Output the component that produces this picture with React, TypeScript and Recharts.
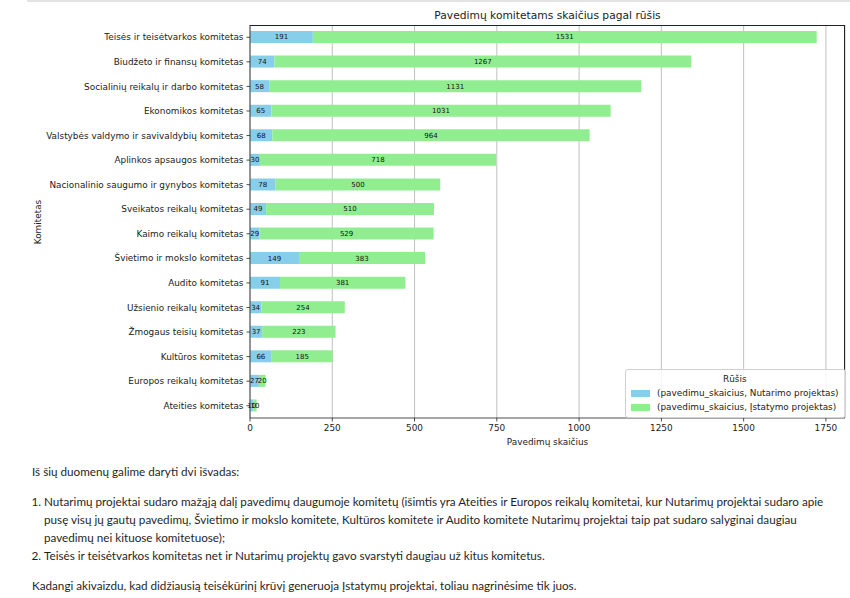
import React from 'react';
import {
  BarChart,
  Bar,
  XAxis,
  YAxis,
  CartesianGrid,
  LabelList,
} from 'recharts';

// ── Duomenys ──────────────────────────────────────────

const committees = [
  'Teisės ir teisėtvarkos komitetas',
  'Biudžeto ir finansų komitetas',
  'Socialinių reikalų ir darbo komitetas',
  'Ekonomikos komitetas',
  'Valstybės valdymo ir savivaldybių komitetas',
  'Aplinkos apsaugos komitetas',
  'Nacionalinio saugumo ir gynybos komitetas',
  'Sveikatos reikalų komitetas',
  'Kaimo reikalų komitetas',
  'Švietimo ir mokslo komitetas',
  'Audito komitetas',
  'Užsienio reikalų komitetas',
  'Žmogaus teisių komitetas',
  'Kultūros komitetas',
  'Europos reikalų komitetas',
  'Ateities komitetas',
];

const nutarimo = [191, 74, 58, 65, 68, 30, 78, 49, 29, 149, 91, 34, 37, 66, 27, 10];
const istatymo = [1531, 1267, 1131, 1031, 964, 718, 500, 510, 529, 383, 381, 254, 223, 185, 20, 10];

const xTicks = [0, 250, 500, 750, 1000, 1250, 1500, 1750];
const xMax = 1808;

const seriesNames = [
  '(pavedimu_skaicius, Nutarimo projektas)',
  '(pavedimu_skaicius, Įstatymo projektas)',
];

const data = committees.map((name, i) => ({
  name,
  nutarimo: nutarimo[i],
  istatymo: istatymo[i],
}));

const MPL_FONT = '"DejaVu Sans", sans-serif';
const FS = 8.9;
const BLUE = '#87CEEB';
const GREEN = '#90EE90';

// plot box (matplotlib axes)
const PLOT = { left: 250, top: 25, right: 845, bottom: 418 };

// ── Y ašies žymos be laužymo ─────────────────────────

// eslint-disable-next-line @typescript-eslint/no-explicit-any
const YTick = (props: any) => {
  const { x, y, payload } = props;
  return (
    <text x={x} y={y} dy="0.35em" textAnchor="end" fill="#222" fontSize={FS} fontFamily={MPL_FONT}>
      {payload.value}
    </text>
  );
};

// ── Legenda ──────────────────────────────────────────

const LegendBox = () => (
  <div style={{
    position: 'absolute', left: 625, top: 369,
    border: '1px solid #d0d0d0',
    borderRadius: 3,
    background: 'rgba(255,255,255,0.85)',
    padding: '2px 6px 3px 5px',
    fontFamily: MPL_FONT,
    fontSize: FS,
    color: '#222',
    lineHeight: '14px',
    whiteSpace: 'nowrap',
  }}>
    <div style={{ textAlign: 'center' }}>Rūšis</div>
    {[BLUE, GREEN].map((c, i) => (
      <div key={i} style={{ display: 'flex', alignItems: 'center', gap: 7 }}>
        <span style={{ width: 19, height: 7, background: c, display: 'inline-block' }} />
        {seriesNames[i]}
      </div>
    ))}
  </div>
);

// ── Pagrindinis komponentas ──────────────────────────

export default function App() {
  return (
    <div style={{ position: 'absolute', left: 0, top: 0, width: 850, height: 598, background: '#fff' }}>
      <div style={{ position: 'absolute', left: 27, top: 0, right: 0, height: 2, background: '#e3e3e3' }} />

      <div style={{
        position: 'absolute', left: PLOT.left, width: PLOT.right - PLOT.left, top: 9, textAlign: 'center',
        fontFamily: MPL_FONT, fontSize: 10.7, color: '#222',
      }}>
        Pavedimų komitetams skaičius pagal rūšis
      </div>

      <div style={{ position: 'absolute', left: 0, top: 0, width: 850, height: 450 }}>
        <BarChart
          width={850}
          height={450}
          data={data}
          layout="vertical"
          barSize={12}
          margin={{ top: PLOT.top, right: 850 - PLOT.right, left: 0, bottom: 2 }}
        >
          <CartesianGrid horizontal={false} stroke="#b0b0b0" strokeWidth={0.8} />

          <XAxis
            type="number"
            domain={[0, xMax]}
            ticks={xTicks}
            height={30}
            tickSize={3.5}
            tickMargin={3}
            tick={{ fill: '#222', fontSize: FS, fontFamily: MPL_FONT }}
            axisLine={{ stroke: '#222', strokeWidth: 0.8 }}
            tickLine={{ stroke: '#222', strokeWidth: 0.8 }}
            label={{ value: 'Pavedimų skaičius', position: 'insideBottom', offset: 3, fill: '#222', fontSize: FS, fontFamily: MPL_FONT }}
          />

          <YAxis
            type="category"
            dataKey="name"
            width={PLOT.left}
            interval={0}
            tickSize={3.5}
            tickMargin={3}
            tick={YTick}
            axisLine={{ stroke: '#222', strokeWidth: 0.8 }}
            tickLine={{ stroke: '#222', strokeWidth: 0.8 }}
          />

          <Bar dataKey="nutarimo" stackId="a" fill={BLUE} isAnimationActive={false}>
            <LabelList dataKey="nutarimo" position="center" fill="#111" fontSize={7} fontFamily={MPL_FONT} />
          </Bar>
          <Bar dataKey="istatymo" stackId="a" fill={GREEN} isAnimationActive={false}>
            <LabelList dataKey="istatymo" position="center" fill="#111" fontSize={7} fontFamily={MPL_FONT} />
          </Bar>
        </BarChart>
      </div>

      {/* y axis title */}
      <div style={{
        position: 'absolute', left: 38, top: 222, transform: 'translate(-50%, -50%) rotate(-90deg)',
        fontFamily: MPL_FONT, fontSize: FS, color: '#222', whiteSpace: 'nowrap',
      }}>
        Komitetas
      </div>

      {/* top & right spines */}
      <div style={{
        position: 'absolute', left: PLOT.left, top: PLOT.top,
        width: PLOT.right - PLOT.left, height: PLOT.bottom - PLOT.top,
        borderTop: '0.8px solid #222', borderRight: '0.8px solid #222',
        boxSizing: 'border-box', pointerEvents: 'none',
      }} />

      <LegendBox />

      <div style={{
        position: 'absolute', left: 32, top: 462, width: 812,
        fontFamily: 'Lato, sans-serif', fontSize: 11.7, lineHeight: '18px', color: '#1f1f1f',
      }}>
        <p style={{ margin: 0 }}>Iš šių duomenų galime daryti dvi išvadas:</p>
        <ol style={{ margin: '12px 0', paddingLeft: 12 }}>
          <li>
            Nutarimų projektai sudaro mažąją dalį pavedimų daugumoje komitetų (išimtis yra Ateities ir Europos reikalų komitetai, kur Nutarimų projektai sudaro apie pusę visų jų gautų pavedimų, Švietimo ir mokslo komitete, Kultūros komitete ir Audito komitete Nutarimų projektai taip pat sudaro salyginai daugiau pavedimų nei kituose komitetuose);
          </li>
          <li>Teisės ir teisėtvarkos komitetas net ir Nutarimų projektų gavo svarstyti daugiau už kitus komitetus.</li>
        </ol>
        <p style={{ margin: 0 }}>Kadangi akivaizdu, kad didžiausią teisėkūrinį krūvį generuoja Įstatymų projektai, toliau nagrinėsime tik juos.</p>
      </div>
    </div>
  );
}
